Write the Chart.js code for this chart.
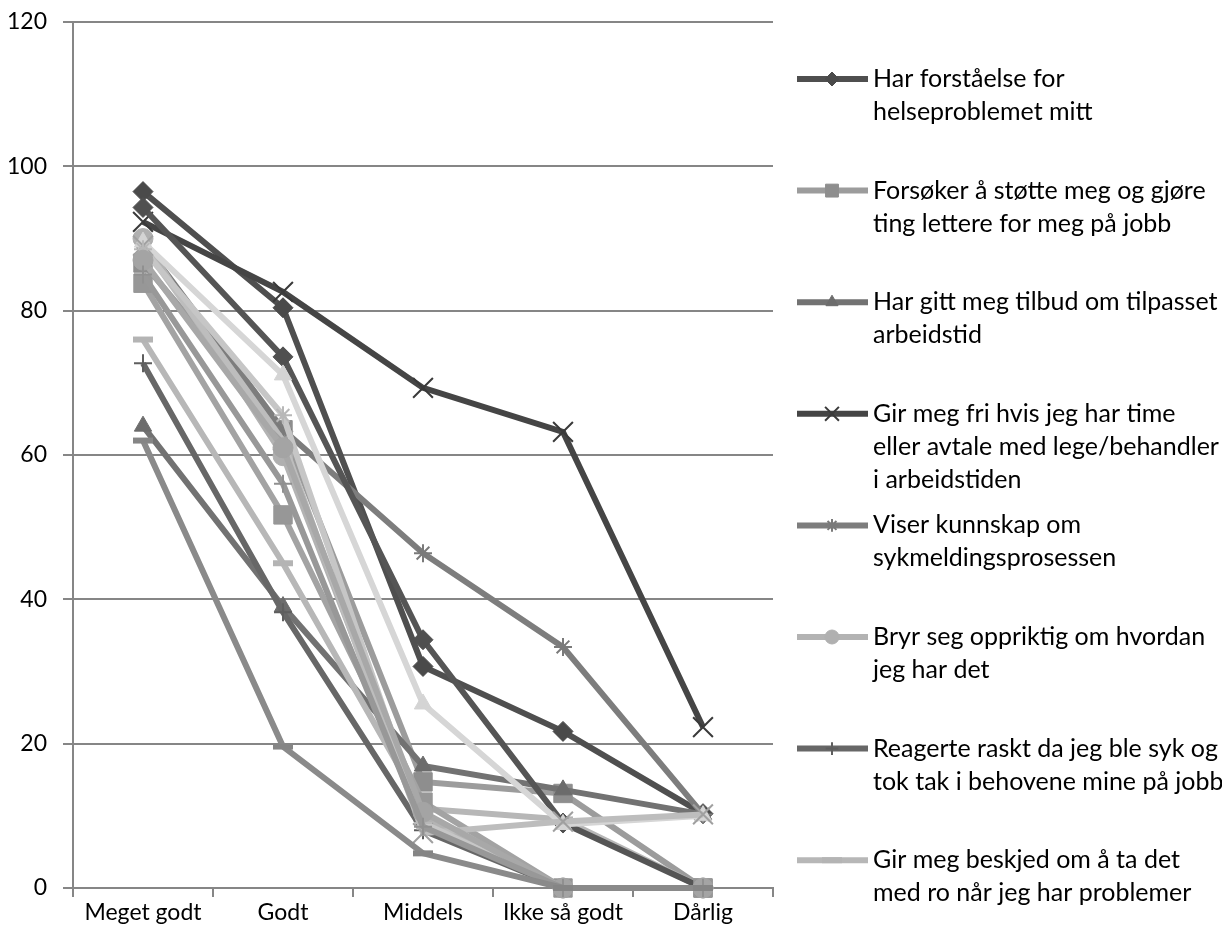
<!DOCTYPE html>
<html>
<head>
<meta charset="utf-8">
<script src="https://cdn.jsdelivr.net/npm/chart.js@4.4.0/dist/chart.umd.min.js"></script>
<style>
  html, body { margin: 0; padding: 0; background: #fff; }
</style>
</head>
<body>
<canvas id="grafica1" width="1222" height="935"></canvas>
<script>
// Svarkategorier og akse
const kategorier = ['Meget godt', 'Godt', 'Middels', 'Ikke så godt', 'Dårlig'];
const yVerdier = [0, 20, 40, 60, 80, 100, 120];

// Legendetekster (linjeskift som i legenden)
const navn = [
    ['Har forståelse for', 'helseproblemet mitt'],
    ['Forsøker å støtte meg og gjøre', 'ting lettere for meg på jobb'],
    ['Har gitt meg tilbud om tilpasset', 'arbeidstid'],
    ['Gir meg fri hvis jeg har time', 'eller avtale med lege/behandler', 'i arbeidstiden'],
    ['Viser kunnskap om', 'sykmeldingsprosessen'],
    ['Bryr seg oppriktig om hvordan', 'jeg har det'],
    ['Reagerte raskt da jeg ble syk og', 'tok tak i behovene mine på jobb'],
    ['Gir meg beskjed om å ta det', 'med ro når jeg har problemer']
];

// Gruppe A
const forstaaelse = [96.5, 80.4, 30.7, 21.7, 10.3];
const stotte      = [86.6, 63.5, 14.7, 13.1, 0];
const arbeidstid  = [64.0, 39.0, 16.9, 13.6, 10.2];
const friTime     = [92.3, 82.6, 69.3, 63.2, 22.3];
const kunnskap    = [89.5, 63.5, 46.4, 33.4, 10.2];
const bryrSeg     = [90.0, 59.9, 9.8, 0, 0];
const reagerte    = [72.7, 38.2, 8.0, 0, 0];
const taDetMedRo  = [76.0, 45.0, 11.0, 9.5, 0];

// Gruppe B
const forstaaelseB = [94.3, 73.6, 34.4, 9.0, 0];
const stotteB      = [83.8, 51.7, 11.9, 0, 0];
const arbeidstidB  = [89.5, 71.1, 25.5, 8.8, 10.0];
const friTimeB     = [89.0, 62.0, 7.6, 9.2, 10.2];
const kunnskapB    = [88.5, 65.5, 9.0, 0, 0];
const bryrSegB     = [87.0, 61.0, 10.5, 0, 0];
const reagerteB    = [85.0, 56.0, 8.5, 0, 0];
const taDetMedRoB  = [62.0, 19.6, 4.8, 0, 0];

const serier = [
    forstaaelse, stotte, arbeidstid, friTime, kunnskap, bryrSeg, reagerte, taDetMedRo,
    forstaaelseB, stotteB, arbeidstidB, friTimeB, kunnskapB, bryrSegB, reagerteB, taDetMedRoB
];
const farger = [
    '#4f4f4f', '#9c9c9c', '#727272', '#454545', '#7d7d7d', '#b3b3b3', '#676767', '#b7b7b7',
    '#555555', '#a3a3a3', '#d6d6d6', '#bdbdbd', '#c6c6c6', '#a8a8a8', '#989898', '#8a8a8a'
];
const markerFarger = [
    '#4a4a4a', '#8e8e8e', '#6c6c6c', '#3a3a3a', '#7a7a7a', '#b0b0b0', '#5e5e5e', '#b4b4b4',
    '#505050', '#979797', '#d4d4d4', '#a0a0a0', '#b8b8b8', '#a4a4a4', '#909090', '#858585'
];

// Excel-rekkefølgen på markører
const markorer = [
    { stil: 'rectRot', r: 10, bw: 1 },
    { stil: 'rect', r: 13, bw: 1 },
    { stil: 'triangle', r: 10, bw: 1 },
    { stil: 'crossRot', r: 14, bw: 2 },
    { stil: 'star', r: 9, bw: 2 },
    { stil: 'circle', r: 10, bw: 1 },
    { stil: 'cross', r: 9, bw: 2 },
    { stil: 'line', r: 10, bw: 6 }
];

const datasets = serier.map((verdier, i) => {
    const m = markorer[i % 8];
    return {
        label: navn[i % 8].join(' '),
        data: verdier,
        borderColor: farger[i],
        backgroundColor: markerFarger[i],
        borderWidth: 6,
        tension: 0,
        pointStyle: m.stil,
        pointRadius: m.r,
        pointBorderWidth: m.bw,
        pointBackgroundColor: markerFarger[i],
        pointBorderColor: markerFarger[i],
        clip: false,
        order: -i
    };
});

// Legenden til høyre, første åtte serier
const legende = {
    id: 'legende',
    afterDraw(chart) {
        const ctx = chart.ctx;
        ctx.save();
        ctx.font = '25px Lato';
        ctx.textBaseline = 'middle';
        chart.data.datasets.slice(0, 8).forEach((ds, i) => {
            const y = 79 + i * 111.6;
            ctx.strokeStyle = ds.borderColor;
            ctx.lineWidth = 6;
            ctx.lineCap = 'butt';
            ctx.beginPath();
            ctx.moveTo(797, y);
            ctx.lineTo(868, y);
            ctx.stroke();

            ctx.fillStyle = ds.pointBackgroundColor;
            ctx.strokeStyle = ds.pointBorderColor;
            ctx.lineWidth = ds.pointStyle === 'line' ? 6 : ds.pointBorderWidth;
            Chart.helpers.drawPoint(ctx, {
                pointStyle: ds.pointStyle,
                radius: ds.pointStyle === 'line' ? ds.pointRadius : ds.pointRadius * 0.7,
                borderWidth: ds.pointBorderWidth,
                rotation: 0
            }, 832, y);

            ctx.fillStyle = '#000';
            navn[i].forEach((linje, k) => {
                ctx.fillText(linje, 873, y + k * 33);
            });
        });
        ctx.restore();
    }
};

const ctx = document.getElementById('grafica1').getContext('2d');
window.miGrafica = new Chart(ctx, {
    type: 'line',
    data: { labels: kategorier, datasets: datasets },
    plugins: [legende],
    options: {
        responsive: false,
        animation: false,
        events: [],
        layout: { padding: { top: 22, right: 449, left: 0, bottom: 0 } },
        plugins: {
            legend: { display: false },
            tooltip: { enabled: false }
        },
        scales: {
            x: {
                offset: true,
                afterFit: s => { s.height = 47; s.paddingLeft = 0; s.paddingRight = 0; },
                grid: {
                    offset: true,
                    drawOnChartArea: false,
                    color: '#868686',
                    lineWidth: 2,
                    tickLength: 9
                },
                border: { color: '#868686', width: 2 },
                ticks: {
                    color: '#000',
                    font: { family: 'Lato', size: 23 },
                    padding: 2,
                    maxRotation: 0,
                    autoSkip: false
                }
            },
            y: {
                min: 0,
                max: 120,
                afterFit: s => { s.width = 73; s.paddingTop = 0; s.paddingBottom = 0; },
                afterBuildTicks: s => { s.ticks = yVerdier.map(v => ({ value: v })); },
                grid: {
                    color: '#868686',
                    lineWidth: 2,
                    tickLength: 10
                },
                border: { color: '#868686', width: 2 },
                ticks: {
                    color: '#000',
                    font: { family: 'Lato', size: 23 },
                    padding: 16
                }
            }
        }
    }
});
</script>
</body>
</html>
